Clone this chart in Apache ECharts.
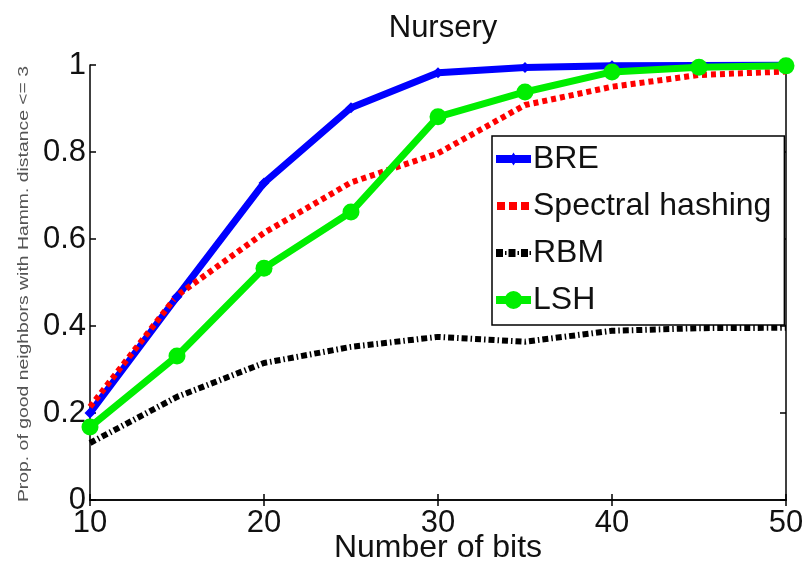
<!DOCTYPE html>
<html>
<head>
<meta charset="utf-8">
<script src="https://cdn.jsdelivr.net/npm/echarts@6/dist/echarts.min.js"></script>
<style>html,body{margin:0;padding:0;background:#fff;}#c{width:807px;height:565px;}</style>
</head>
<body>
<div id="c"></div>
<script>
var bits = [10, 15, 20, 25, 30, 35, 40, 45, 50];
var bre = [0.20, 0.467, 0.729, 0.902, 0.982, 0.994, 0.998, 0.999, 1.0];
var spectral = [0.214, 0.47, 0.614, 0.73, 0.797, 0.908, 0.95, 0.977, 0.985];
var rbm = [0.131, 0.237, 0.315, 0.352, 0.375, 0.364, 0.389, 0.395, 0.396];
var lsh = [0.168, 0.331, 0.533, 0.662, 0.881, 0.938, 0.984, 0.995, 0.998];
var seriesNames = ['BRE', 'Spectral hashing', 'RBM', 'LSH'];
var titleText = 'Nursery';
var xName = 'Number of bits';
var yName = 'Prop. of good neighbors with Hamm. distance <= 3';

function pairs(ys) { return bits.map(function (b, i) { return [b, ys[i]]; }); }

// legend icon shapes (35 x 20 box)
var BOX = 'M0,0L0,0M35,20L35,20';
var icons = [
  'path://' + BOX + 'M0,6H35V14H0Z M13.5,10L17.5,3.5L21.5,10L17.5,16.5Z',
  'path://' + BOX + 'M1,6H9V14H1Z M13,6H21V14H13Z M25,6H33V14H25Z',
  'path://' + BOX + 'M0,6H7V14H0Z M9,8H10.5V12H9Z M12.5,6H19.5V14H12.5Z M21.5,8H23V12H21.5Z M25,6H32V14H25Z M33.5,8H35V12H33.5Z',
  'path://' + BOX + 'M0,6H35V14H0Z M8.5,10A9,9 0 1,1 26.5,10A9,9 0 1,1 8.5,10Z'
];

var FONT = '"Liberation Sans", Arial, sans-serif';
var chart = echarts.init(document.getElementById('c'), null, {renderer: 'canvas'});
var axisLine = {show: true, lineStyle: {color: '#000', width: 1.5}};
var tick = {show: true, inside: true, length: 6, lineStyle: {color: '#000', width: 1.5}};
chart.setOption({
  animation: false,
  backgroundColor: '#fff',
  title: {
    text: titleText, left: 438, top: 8, textAlign: 'center',
    textStyle: {fontFamily: FONT, fontSize: 31, fontWeight: 'normal', color: '#111'}
  },
  grid: {left: 90, right: 21, top: 65, bottom: 65, outerBoundsMode: 'none', containLabel: false},
  legend: {
    orient: 'vertical', left: 492, top: 136,
    data: seriesNames.map(function (n, i) { return {name: n, icon: icons[i]}; }),
    backgroundColor: '#fff', borderColor: '#000', borderWidth: 1.5,
    padding: [7, 13, 9, 4], itemGap: 15, itemWidth: 35, itemHeight: 20,
    textStyle: {fontFamily: FONT, fontSize: 32, color: '#111', padding: [0, 0, 0, -3]}
  },
  xAxis: [{
    type: 'value', min: 10, max: 50, interval: 10,
    name: xName, nameLocation: 'middle', nameGap: 32, nameMoveOverlap: false,
    nameTextStyle: {fontFamily: FONT, fontSize: 32, color: '#111', verticalAlign: 'top'},
    axisLine: axisLine, axisTick: tick,
    axisLabel: {fontFamily: FONT, fontSize: 31, color: '#111', margin: 8},
    splitLine: {show: false}
  }, {
    type: 'value', min: 10, max: 50, interval: 10, position: 'top',
    axisLine: axisLine, axisTick: tick,
    axisLabel: {show: false}, splitLine: {show: false}
  }],
  yAxis: [{
    type: 'value', min: 0, max: 1, interval: 0.2,
    axisLine: axisLine, axisTick: tick,
    axisLabel: {fontFamily: FONT, fontSize: 31, color: '#111', margin: 4,
      formatter: function (v) { return String(Math.round(v * 10) / 10); }},
    splitLine: {show: false}
  }, {
    type: 'value', min: 0, max: 1, interval: 0.2, position: 'right',
    axisLine: axisLine, axisTick: tick,
    axisLabel: {show: false}, splitLine: {show: false}
  }],
  graphic: [{
    type: 'text', x: 24, y: 284, rotation: Math.PI / 2, scaleX: 1.25, scaleY: 1,
    style: {text: yName, fontFamily: FONT, fontSize: 15.5, fill: '#555',
      align: 'center', verticalAlign: 'middle'}
  }],
  series: [{
    name: seriesNames[0], type: 'line', data: pairs(bre),
    symbol: 'diamond', symbolSize: 11, showAllSymbol: true,
    lineStyle: {color: '#0000ff', width: 7},
    itemStyle: {color: '#0000ff'}
  }, {
    name: seriesNames[1], type: 'line', data: pairs(spectral),
    symbol: 'none',
    lineStyle: {color: '#ff0000', width: 6, type: [5, 4], cap: 'butt'},
    itemStyle: {color: '#ff0000'}
  }, {
    name: seriesNames[2], type: 'line', data: pairs(rbm),
    symbol: 'none',
    lineStyle: {color: '#000', width: 6, type: [6, 3, 1.5, 3], cap: 'butt'},
    itemStyle: {color: '#000'}
  }, {
    name: seriesNames[3], type: 'line', data: pairs(lsh),
    symbol: 'circle', symbolSize: 17,
    lineStyle: {color: '#00ee00', width: 7},
    itemStyle: {color: '#00ee00'}
  }]
});
</script>
</body>
</html>
